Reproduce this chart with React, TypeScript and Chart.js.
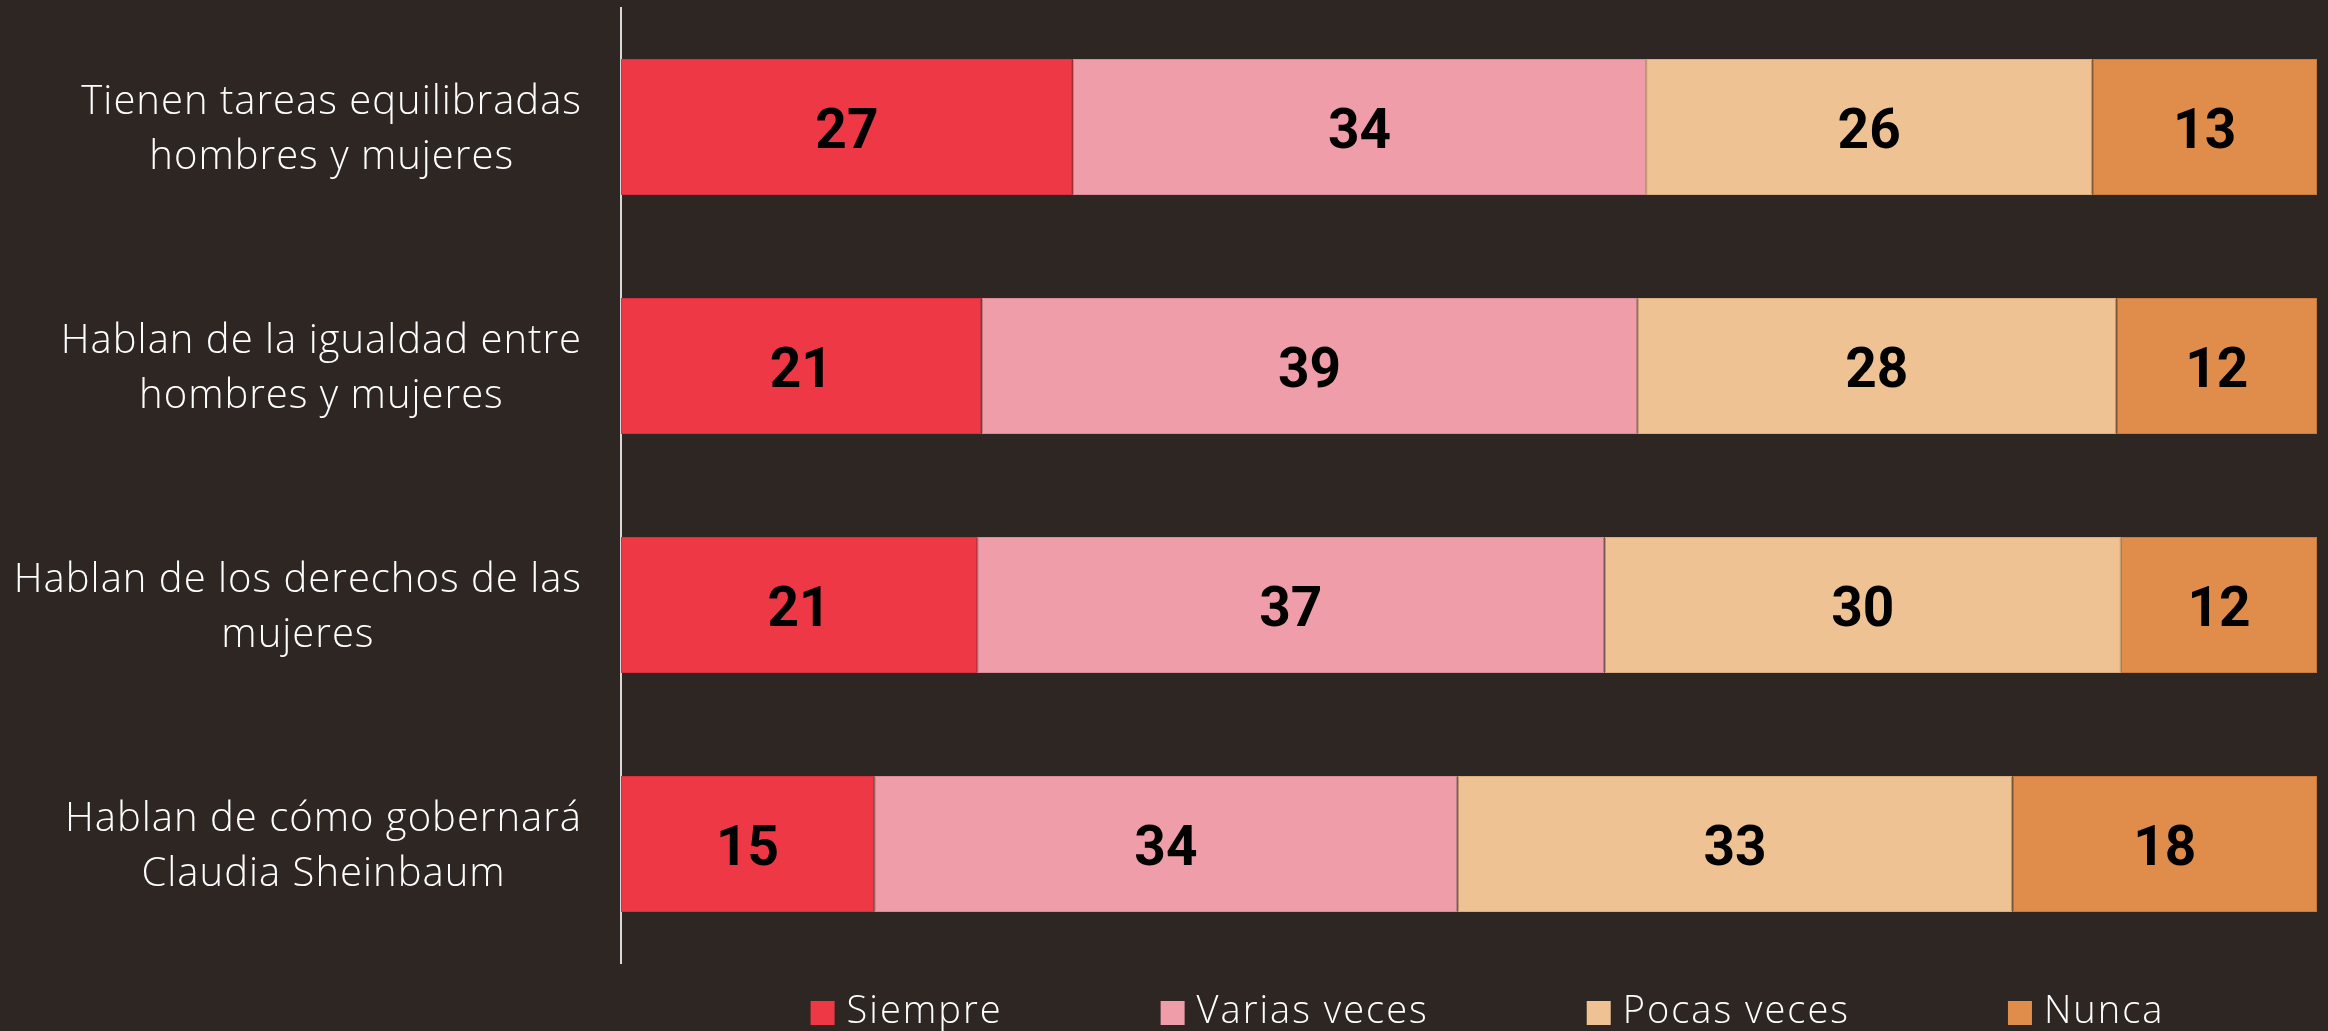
import React, { useEffect, useRef } from "react";
import { Chart, registerables } from "chart.js";

Chart.register(...registerables);

// ---- data ----
const categoryLines: string[][] = [
  ["Tienen tareas equilibradas", "hombres y mujeres"],
  ["Hablan de la igualdad entre", "hombres y mujeres"],
  ["Hablan de los derechos de las", "mujeres"],
  ["Hablan de cómo gobernará", "Claudia Sheinbaum"],
];
const seriesNames = ["Siempre", "Varias veces", "Pocas veces", "Nunca"];
const siempre = [26.64, 21.27, 21.0, 14.93];
const variasVeces = [33.8, 38.65, 36.99, 34.4];
const pocasVeces = [26.31, 28.25, 30.45, 32.71];
const nunca = [13.25, 11.83, 11.56, 17.96];
const xMin = 0;
const xMax = 100;

// ---- styles ----
const BG = "#2E2622";
const fillColors = ["#EE3846", "#EE9DA9", "#EEC293", "#E08D4B"];
const edgeColors = ["#D8303E", "#D98C97", "#D9AE80", "#C97B3E"];
const LABEL_FONT = "300 40px 'Open Sans', 'Noto Sans', sans-serif";
const LABEL_SPACING = "1px";
const LEGEND_FONT = "300 38px 'Open Sans', 'Noto Sans', sans-serif";
const LEGEND_SPACING = "2px";
const VALUE_FONT = "700 55px Roboto, 'Noto Sans', sans-serif";

const yLabelPlugin = {
  id: "yLabelPlugin",
  afterDraw(chart: any) {
    const ctx = chart.ctx;
    const yScale = chart.scales.y;
    const rightEdge = 582;
    const lineH = 55;
    const capHalf = 14;
    ctx.save();
    ctx.font = LABEL_FONT;
    ctx.letterSpacing = LABEL_SPACING;
    ctx.fillStyle = "#FFFFFF";
    ctx.textAlign = "center";
    ctx.textBaseline = "alphabetic";
    categoryLines.forEach((lines, i) => {
      const cy = yScale.getPixelForValue(i);
      const widths = lines.map((l) => ctx.measureText(l).width);
      const blockW = Math.max(...widths);
      const cx = rightEdge - blockW / 2;
      lines.forEach((line, j) => {
        const by = cy + (j - (lines.length - 1) / 2) * lineH + capHalf;
        ctx.fillText(line, cx, by);
      });
    });
    ctx.restore();
  },
};

const valueLabelPlugin = {
  id: "valueLabelPlugin",
  afterDatasetsDraw(chart: any) {
    const ctx = chart.ctx;
    ctx.save();
    ctx.font = VALUE_FONT;
    ctx.fillStyle = "#000000";
    ctx.textAlign = "center";
    ctx.textBaseline = "alphabetic";
    chart.data.datasets.forEach((ds: any, di: number) => {
      const meta = chart.getDatasetMeta(di);
      meta.data.forEach((el: any, i: number) => {
        const p = el.getProps(["x", "y", "base"], true);
        const cx = (p.x + p.base) / 2;
        ctx.fillText(String(Math.round(ds.data[i])), cx, p.y + 21);
      });
    });
    ctx.restore();
  },
};

const legendPlugin = {
  id: "customLegend",
  afterDraw(chart: any) {
    const ctx = chart.ctx;
    const box = 24;
    const boxGap = 12;
    const itemGap = 158;
    const centerX = 1487.5;
    const boxTop = 1001;
    const baseline = 1023;
    ctx.save();
    ctx.font = LEGEND_FONT;
    ctx.letterSpacing = LEGEND_SPACING;
    const items = chart.data.datasets.map((ds: any) => ({
      text: ds.label,
      color: ds.backgroundColor,
      w: ctx.measureText(ds.label).width,
    }));
    const total =
      items.reduce((s: number, it: any) => s + box + boxGap + it.w, 0) +
      itemGap * (items.length - 1);
    let x = centerX - total / 2;
    items.forEach((it: any) => {
      ctx.fillStyle = it.color;
      ctx.fillRect(x, boxTop, box, box);
      ctx.fillStyle = "#FFFFFF";
      ctx.textAlign = "left";
      ctx.textBaseline = "alphabetic";
      ctx.fillText(it.text, x + box + boxGap, baseline);
      x += box + boxGap + it.w + itemGap;
    });
    ctx.restore();
  },
};

export default function App() {
  const canvasRef = useRef<HTMLCanvasElement | null>(null);

  useEffect(() => {
    document.body.style.margin = "0";
    document.body.style.background = BG;
    const canvas = canvasRef.current;
    if (!canvas) return;
    const seriesValues = [siempre, variasVeces, pocasVeces, nunca];
    const chart = new Chart(canvas, {
      type: "bar",
      data: {
        labels: categoryLines.map((l) => l.join(" ")),
        datasets: seriesNames.map((name, i) => ({
          label: name,
          data: seriesValues[i],
          backgroundColor: fillColors[i],
          borderColor: edgeColors[i],
          borderWidth: 1,
          borderSkipped: false,
          categoryPercentage: 1,
          barPercentage: 0.569,
        })),
      },
      options: {
        indexAxis: "y",
        responsive: false,
        animation: false,
        layout: { padding: { top: 7.5, bottom: 67.5, left: 0, right: 11 } },
        plugins: {
          legend: { display: false },
          tooltip: { enabled: false },
          title: { display: false },
        },
        scales: {
          x: {
            stacked: true,
            display: false,
            min: xMin,
            max: xMax,
          },
          y: {
            stacked: true,
            grid: { display: false },
            ticks: { display: false },
            border: { display: true, color: "#D9D9D9", width: 2 },
            afterFit: (scale: any) => {
              scale.width = 621;
            },
          },
        },
      },
      plugins: [yLabelPlugin, valueLabelPlugin, legendPlugin],
    });
    return () => chart.destroy();
  }, []);

  return (
    <canvas
      ref={canvasRef}
      width={2328}
      height={1031}
      style={{ display: "block", background: BG, width: 2328, height: 1031 }}
    />
  );
}
